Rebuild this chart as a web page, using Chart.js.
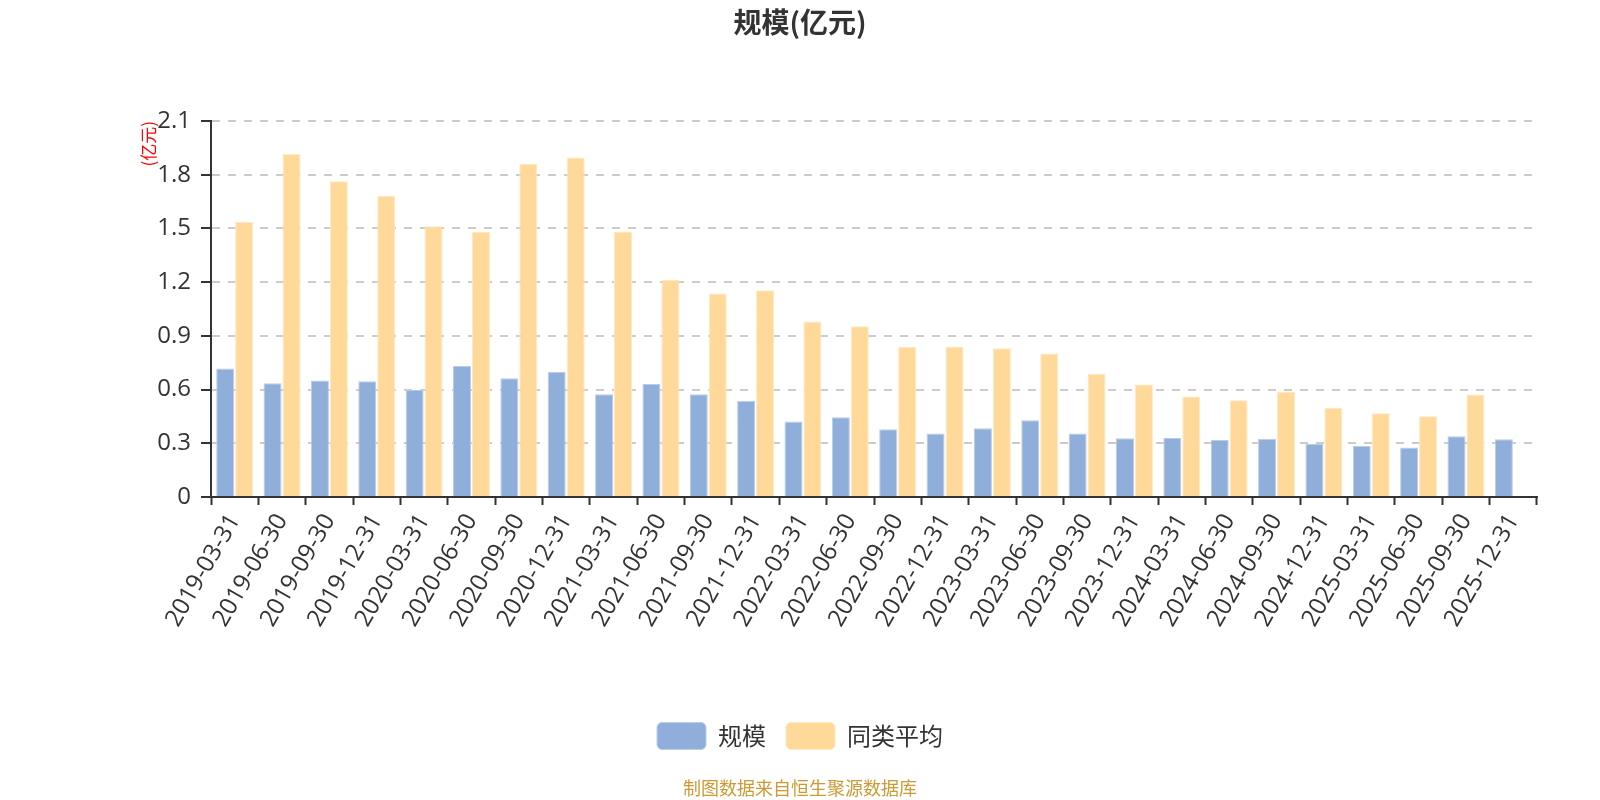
<!DOCTYPE html>
<html>
<head>
<meta charset="utf-8">
<script src="https://cdn.jsdelivr.net/npm/chart.js@4.4.0/dist/chart.umd.min.js"></script>
<style>
  html, body { margin: 0; padding: 0; background: #ffffff; }
  #wrap { width: 1600px; height: 800px; position: relative; }
</style>
</head>
<body>
<div id="wrap"><canvas id="c" width="1600" height="800"></canvas></div>
<script>
const categories = [
  '2019-03-31','2019-06-30','2019-09-30','2019-12-31',
  '2020-03-31','2020-06-30','2020-09-30','2020-12-31',
  '2021-03-31','2021-06-30','2021-09-30','2021-12-31',
  '2022-03-31','2022-06-30','2022-09-30','2022-12-31',
  '2023-03-31','2023-06-30','2023-09-30','2023-12-31',
  '2024-03-31','2024-06-30','2024-09-30','2024-12-31',
  '2025-03-31','2025-06-30','2025-09-30','2025-12-31'
];
const scaleValues = [
  0.717, 0.635, 0.650, 0.646,
  0.598, 0.732, 0.663, 0.698,
  0.574, 0.631, 0.574, 0.538,
  0.421, 0.445, 0.378, 0.354,
  0.384, 0.428, 0.354, 0.328,
  0.330, 0.318, 0.326, 0.296,
  0.285, 0.276, 0.339, 0.322
];
const peerAverage = [
  1.536, 1.915, 1.764, 1.682,
  1.512, 1.481, 1.861, 1.896,
  1.483, 1.214, 1.136, 1.155,
  0.980, 0.954, 0.838, 0.840,
  0.831, 0.801, 0.687, 0.628,
  0.561, 0.540, 0.589, 0.497,
  0.468, 0.451, 0.572, null
];
const seriesNames = ['规模', '同类平均'];
const chartTitle = '规模(亿元)';
const yAxisTitle = '(亿元)';
const footerText = '制图数据来自恒生聚源数据库';
const yTicks = { min: 0, max: 2.1, step: 0.3 };

const FONT = "'Open Sans', 'Noto Sans CJK SC', sans-serif";
Chart.defaults.font.family = FONT;
Chart.defaults.color = '#333';

const footerPlugin = {
  id: 'footer',
  afterDraw(chart) {
    const ctx = chart.ctx;
    ctx.save();
    ctx.font = "18px 'Noto Sans CJK SC', sans-serif";
    ctx.fillStyle = '#cc9933';
    ctx.textAlign = 'center';
    ctx.textBaseline = 'middle';
    ctx.fillText(footerText, 800, 788);
    ctx.restore();
  }
};

new Chart(document.getElementById('c'), {
  type: 'bar',
  data: {
    labels: categories,
    datasets: [
      {
        label: seriesNames[0],
        data: scaleValues,
        backgroundColor: '#8faeda',
        borderColor: '#b9cdea',
        borderWidth: 1,
        categoryPercentage: 0.8,
        barPercentage: 0.95
      },
      {
        label: seriesNames[1],
        data: peerAverage,
        backgroundColor: '#fed99a',
        borderColor: '#ffe8c2',
        borderWidth: 1,
        categoryPercentage: 0.8,
        barPercentage: 0.95
      }
    ]
  },
  options: {
    responsive: false,
    animation: false,
    layout: { padding: { left: 0, right: 0, top: 0, bottom: 40.5 } },
    plugins: {
      tooltip: { enabled: false },
      title: {
        display: true,
        text: chartTitle,
        color: '#333',
        font: { size: 28, weight: 'bold', family: "'Noto Sans CJK SC', sans-serif" },
        padding: { top: 6, bottom: 81.4 }
      },
      legend: {
        position: 'bottom',
        labels: {
          boxWidth: 49,
          boxHeight: 27,
          padding: 20,
          useBorderRadius: true,
          borderRadius: 5,
          color: '#333',
          font: { size: 24, family: "'Noto Sans CJK SC', sans-serif" }
        }
      }
    },
    scales: {
      x: {
        type: 'category',
        offset: true,
        grid: {
          display: true,
          offset: true,
          drawOnChartArea: false,
          drawTicks: true,
          tickLength: 8,
          tickColor: '#333',
          tickWidth: 2
        },
        border: { display: true, color: '#333', width: 2 },
        ticks: {
          autoSkip: false,
          maxRotation: 60,
          minRotation: 60,
          padding: 4,
          color: '#333',
          font: { size: 24 }
        },
        afterFit(s) { s.height = 205.5; }
      },
      y: {
        type: 'linear',
        position: 'left',
        min: yTicks.min,
        max: yTicks.max,
        grid: {
          color: '#cccccc',
          lineWidth: 2,
          drawTicks: true,
          tickLength: 10,
          tickColor: '#333',
          tickWidth: 2,
          tickBorderDash: []
        },
        border: { display: true, color: '#333', width: 2, dash: [8, 8] },
        ticks: {
          stepSize: yTicks.step,
          padding: 10,
          color: '#333',
          font: { size: 24 },
          callback: (v) => String(+(+v).toFixed(1))
        },
        title: {
          display: true,
          text: yAxisTitle,
          color: '#ff0000',
          align: 'end',
          font: { size: 17, family: "'Noto Sans CJK SC', sans-serif" },
          padding: { top: 138.8, bottom: 0 }
        },
        afterFit(s) { s.width = 211; }
      },
      yR: {
        type: 'linear',
        position: 'right',
        display: true,
        grid: { display: false },
        border: { display: false },
        ticks: { display: false },
        afterFit(s) { s.width = 63; }
      }
    }
  },
  plugins: [footerPlugin]
});
</script>
</body>
</html>
